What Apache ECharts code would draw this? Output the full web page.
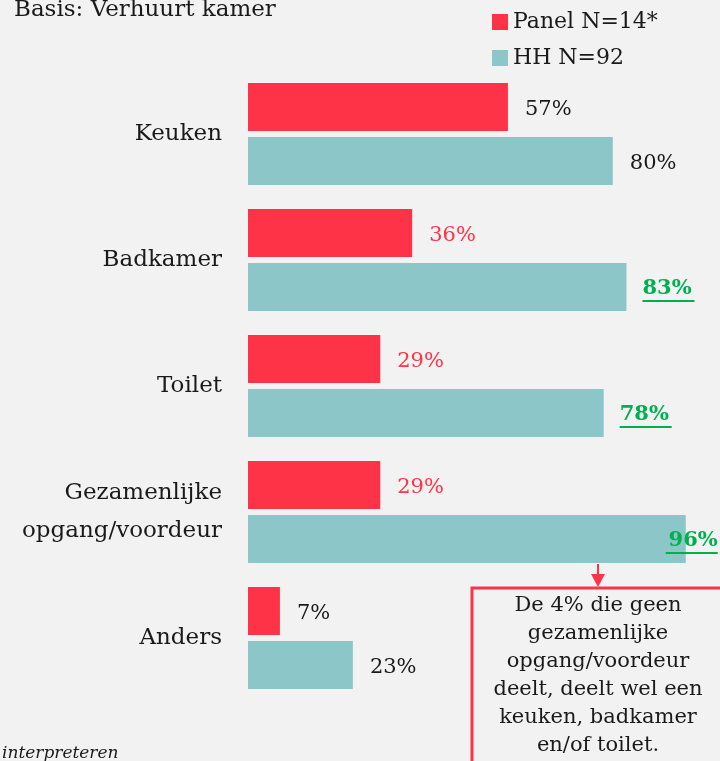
<!DOCTYPE html>
<html>
<head>
<meta charset="utf-8">
<script src="https://cdn.jsdelivr.net/npm/echarts@6/dist/echarts.min.js"></script>
<style>
  html, body { margin: 0; padding: 0; background: #f2f2f2; }
  #chart { width: 720px; height: 761px; }
</style>
</head>
<body>
<div id="chart"></div>
<script>
// data
const categories = ['Keuken', 'Badkamer', 'Toilet', 'Gezamenlijke\nopgang/voordeur', 'Anders']
const panelValues = [57, 36, 29, 29, 7]
const hhValues = [80, 83, 78, 96, 23]
const panelName = 'Panel N=14*'
const hhName = 'HH N=92'
// which labels are highlighted
const panelHighlight = [false, true, true, true, false]
const hhSignificant = [false, true, true, true, false]

const RED = '#ff3347'
const TEAL = '#8cc6c8'
const GREEN = '#00b050'
const FONT = 'DejaVu Serif'

let myChart = echarts.init(document.getElementById('chart'))

// panel bars: red labels where highlighted
let panelData = panelValues.map((v, i) => ({
  value: v,
  label: { color: panelHighlight[i] ? RED : '#1a1a1a' }
}))

// hh bars: green bold underlined labels where significant
let hhData = hhValues.map((v, i) => {
  let item = { value: v }
  if (hhSignificant[i]) {
    item.label = {
      formatter: '{v|{c}%}\n{u|}',
      rich: {
        v: { fontFamily: FONT, fontSize: 21, fontWeight: 'bold', color: GREEN, lineHeight: 22 },
        u: { width: 52, height: 2, backgroundColor: GREEN, lineHeight: 2 }
      }
    }
    if (v > 90) { // last one does not fit next to the bar
      item.label.position = 'insideRight'
      item.label.distance = 0
      item.label.offset = [32, 3]
    } else {
      item.label.offset = [-1, 3]
    }
  }
  return item
})

myChart.setOption({
  backgroundColor: '#f2f2f2',
  animation: false,
  textStyle: { fontFamily: FONT },
  title: {
    text: 'Basis: Verhuurt kamer',
    left: 9, top: -6,
    textStyle: { fontFamily: FONT, fontSize: 23, fontWeight: 'normal', color: '#1a1a1a' }
  },
  legend: {
    orient: 'vertical',
    left: 487, top: 6,
    itemWidth: 16, itemHeight: 16, itemGap: 14,
    icon: 'rect',
    textStyle: { fontFamily: FONT, fontSize: 22, color: '#1a1a1a' },
    data: [panelName, hhName]
  },
  grid: { left: 248, right: 16, top: 71, bottom: 60, containLabel: false },
  xAxis: {
    type: 'value', min: 0, max: 100, show: false
  },
  yAxis: {
    type: 'category',
    inverse: true,
    data: categories,
    axisLine: { show: false },
    axisTick: { show: false },
    axisLabel: {
      margin: 26, align: 'right',
      fontFamily: FONT, fontSize: 23, color: '#1a1a1a', lineHeight: 38
    }
  },
  series: [
    {
      name: panelName,
      type: 'bar',
      data: panelData,
      barWidth: 48,
      barGap: '12.5%',
      itemStyle: { color: RED },
      label: {
        show: true, position: 'right', distance: 17, offset: [0, 3],
        formatter: '{c}%',
        fontFamily: FONT, fontSize: 21, color: '#1a1a1a'
      }
    },
    {
      name: hhName,
      type: 'bar',
      data: hhData,
      barWidth: 48,
      barGap: '12.5%',
      itemStyle: { color: TEAL },
      label: {
        show: true, position: 'right', distance: 17, offset: [0, 3],
        formatter: '{c}%',
        fontFamily: FONT, fontSize: 21, color: '#1a1a1a'
      }
    }
  ],
  graphic: [
    // callout arrow
    {
      type: 'line', z: 10,
      shape: { x1: 598, y1: 564, x2: 598, y2: 576 },
      style: { stroke: RED, lineWidth: 2 }
    },
    {
      type: 'polygon', z: 10,
      shape: { points: [[591, 574], [605, 574], [598, 587]] },
      style: { fill: RED }
    },
    // callout box
    {
      type: 'rect', z: 10,
      shape: { x: 472, y: 588, width: 260, height: 200 },
      style: { fill: 'none', stroke: RED, lineWidth: 3 }
    },
    {
      type: 'text', z: 11,
      x: 598, y: 592,
      style: {
        text: 'De 4% die geen\ngezamenlijke\nopgang/voordeur\ndeelt, deelt wel een\nkeuken, badkamer\nen/of toilet.',
        align: 'center', verticalAlign: 'top',
        fontFamily: FONT, fontSize: 21, lineHeight: 28, fill: '#1a1a1a'
      }
    },
    // footnote, cut off at the bottom
    {
      type: 'text',
      left: 2, top: 745,
      style: {
        text: 'interpreteren',
        fontFamily: FONT, fontSize: 17, fontStyle: 'italic', fill: '#1a1a1a'
      }
    }
  ]
})
</script>
</body>
</html>
